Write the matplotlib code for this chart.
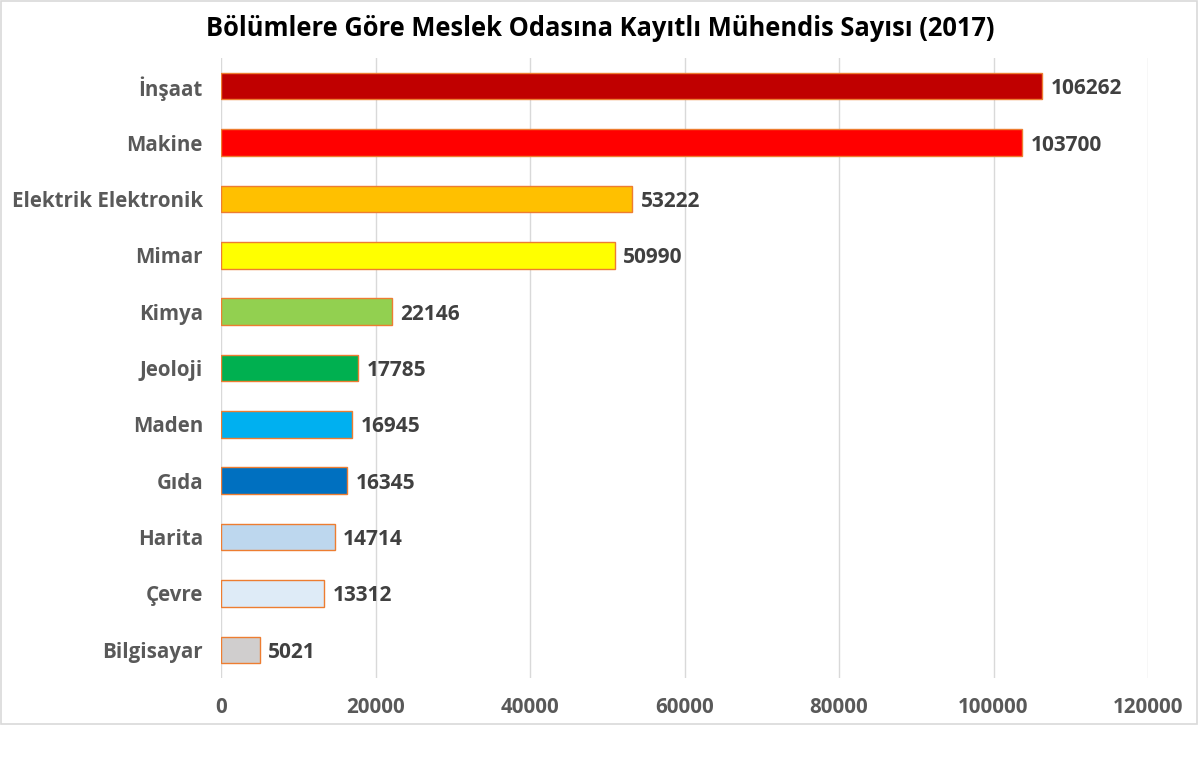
import numpy as np
import matplotlib.pyplot as plt
from matplotlib.patches import Rectangle

# data
categories = ["İnşaat", "Makine", "Elektrik Elektronik", "Mimar", "Kimya", "Jeoloji",
              "Maden", "Gıda", "Harita", "Çevre", "Bilgisayar"]
values = [106262, 103700, 53222, 50990, 22146, 17785, 16945, 16345, 14714, 13312, 5021]
colors = ["#C00000", "#FF0000", "#FFC000", "#FFFF00", "#92D050", "#00B050",
          "#00B0F0", "#0070C0", "#BDD7EE", "#DEEBF7", "#D0CECE"]
xticks = [0, 20000, 40000, 60000, 80000, 100000, 120000]

plt.rcParams['font.family'] = ['Open Sans', 'DejaVu Sans']

fig = plt.figure(figsize=(12, 7.76), dpi=100)
ax = fig.add_axes([221/1200, 1 - 678/776, (1148-221)/1200, (678-58)/776])

y = np.arange(len(categories))
ax.barh(y, values, height=0.47, color=colors, edgecolor="#ED7D31", linewidth=1.0, zorder=3)

for yi, v in zip(y, values):
    ax.text(v + 1100, yi, str(v), va="center_baseline", ha="left", fontsize=15,
            fontweight="bold", color="#404040")

ax.set_ylim(len(categories) - 0.5, -0.5)
ax.set_xlim(0, 120000)
ax.set_yticks(y)
ax.set_yticklabels(categories, fontsize=14.8, fontweight="bold", color="#595959",
                   va="center_baseline")
ax.set_xticks(xticks)
ax.set_xticklabels([str(t) for t in xticks], fontsize=14.8, fontweight="bold", color="#595959")
ax.tick_params(axis="both", length=0)
ax.tick_params(axis="y", pad=13)
ax.tick_params(axis="x", pad=14)
ax.grid(axis="x", color="#D9D9D9", linewidth=1.0, zorder=0)
for s in ax.spines.values():
    s.set_visible(False)

fig.text(0.5, 1 - 28/776, "Bölümlere Göre Meslek Odasına Kayıtlı Mühendis Sayısı (2017)",
         ha="center", va="center", fontsize=18.4, fontweight="bold", color="black")

# chart border
fig.patches.append(Rectangle((1/1200, 1 - 724/776), 1196/1200, 723/776,
                             transform=fig.transFigure, fill=False,
                             edgecolor="#D9D9D9", linewidth=1.2))

fig.savefig("out.png", dpi=100)
